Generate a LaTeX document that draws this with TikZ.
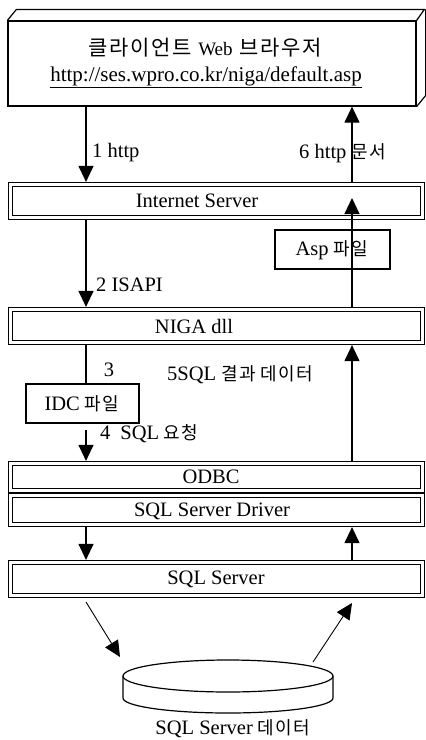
\documentclass[tikz,border=0pt]{standalone}
\usepackage{fontspec}
\setmainfont{Liberation Serif}
\newfontfamily\krfont[LetterSpace=8]{Noto Sans CJK KR}
\newcommand\kor[1]{{\krfont\fontsize{18}{20}\selectfont #1}}
\newcommand\korT[1]{{\krfont\fontsize{21}{24}\selectfont #1}}
\usetikzlibrary{arrows.meta,calc}
\tikzset{
  frame/.style={draw, double, double distance=2.8pt, line width=1.2pt, inner sep=0pt, outer sep=2.6pt, minimum width=412pt, minimum height=33pt},
  plainbox/.style={draw, line width=1.2pt, inner sep=0pt},
  lbl/.style={inner sep=0pt, font=\fontsize{20.5}{22}\selectfont},
  arr/.style={line width=1.2pt, -{Triangle[length=16pt,width=15pt]}},
  ln/.style={line width=1.2pt},
}
\begin{document}
\begin{tikzpicture}[x=1pt,y=-1pt]
\useasboundingbox (0,0) rectangle (426,740);
\coordinate (colL) at (86,0);
\coordinate (colR) at (352,0);

% client browser 3D box
\node[plainbox, minimum width=408pt, minimum height=85pt] (client) at (212,63.5) {};
\draw[ln] (client.north west) -- ++(9,-11) -- ++(408,0) -- (client.north east);
\draw[ln] ($(client.north east)+(9,-11)$) -- ($(client.south east)+(9,-11)$) -- (client.south east);
\node[lbl] (ttitle) at (205,48) {\korT{클라이언트}\hspace{7pt}{\fontsize{19}{22}\selectfont Web}\hspace{7pt}\korT{브라우저}};
\node[lbl, font=\fontsize{21}{24}\selectfont] (turl) at (206,77) {\underline{http://ses.wpro.co.kr/niga/default.asp}};

% layer frames
\node[frame] (inet) at (216.5,201) {};
\node[lbl] (tinet) at (197,201) {Internet Server};
\node[frame] (niga) at (216.5,326) {};
\node[lbl] (tniga) at (194,326) {NIGA dll};
\node[frame, minimum height=27pt] (odbcA) at (216.5,477) {};
\node[frame, minimum height=29pt] (odbcB) at (216.5,510) {};
\node[lbl] (todbc) at (211,477) {ODBC};
\node[lbl] (tdrv) at (212,511) {SQL Server Driver};
\node[frame] (sqls) at (216.5,579) {};
\node[lbl] (tsqls) at (216,579) {SQL Server};

% small boxes
\node[plainbox, minimum width=115pt, minimum height=39pt] (asp) at (332.5,249.5) {};
\node[lbl] (tasp) at (332,250) {Asp \kor{파일}};
\node[plainbox, minimum width=113pt, minimum height=39pt] (idc) at (82.5,403.5) {};
\node[lbl] (tidc) at (82,404) {IDC \kor{파일}};

% connectors
\draw[arr] (colL |- client.south) -- (colL |- inet.north);
\node[lbl, anchor=west] (l1) at (92,153) {1 http};
\draw[arr] (colR |- inet.north) -- (colR |- client.south);
\node[lbl, anchor=west] (l6) at (299,153) {6 http \kor{문서}};

\draw[arr] (colL |- inet.south) -- (colL |- niga.north);
\node[lbl, anchor=west] (l2) at (96,285) {2 ISAPI};
\coordinate (asptip) at (352,198);
\draw[arr] (colR |- niga.north) -- (asptip);

\draw[ln] (colL |- niga.south) -- (colL |- idc.north);
\node[lbl] (l3) at (109,370) {3};
\coordinate (c4) at (86,430);
\draw[arr] (c4) -- (colL |- odbcA.north);
\node[lbl, anchor=west] (l4) at (100,434) {4\hspace{10pt}SQL\hspace{4pt}\kor{요청}};
\draw[arr] (colR |- odbcA.north) -- (colR |- niga.south);
\node[lbl, anchor=west] (l5) at (167,375) {5SQL \kor{결과} \kor{데이터}};

\draw[arr] (colL |- odbcB.south) -- (colL |- sqls.north);
\draw[arr] (colR |- sqls.north) -- (colR |- odbcB.south);

% database cylinder
\draw[ln] (228,676) ellipse [x radius=105pt, y radius=16pt];
\draw[ln] (123,676) -- (123,698) arc [start angle=180, end angle=360, x radius=105pt, y radius=15pt] -- (333,676);
\coordinate (d1s) at (86,602);
\coordinate (d1e) at (120,657);
\coordinate (d2s) at (313,662);
\coordinate (d2e) at (352,603);
\draw[arr, line width=0.9pt] (d1s) -- (d1e);
\draw[arr, line width=0.9pt] (d2s) -- (d2e);
\node[lbl] (tdb) at (233,729) {SQL Server \kor{데이터}};
\end{tikzpicture}
\end{document}
